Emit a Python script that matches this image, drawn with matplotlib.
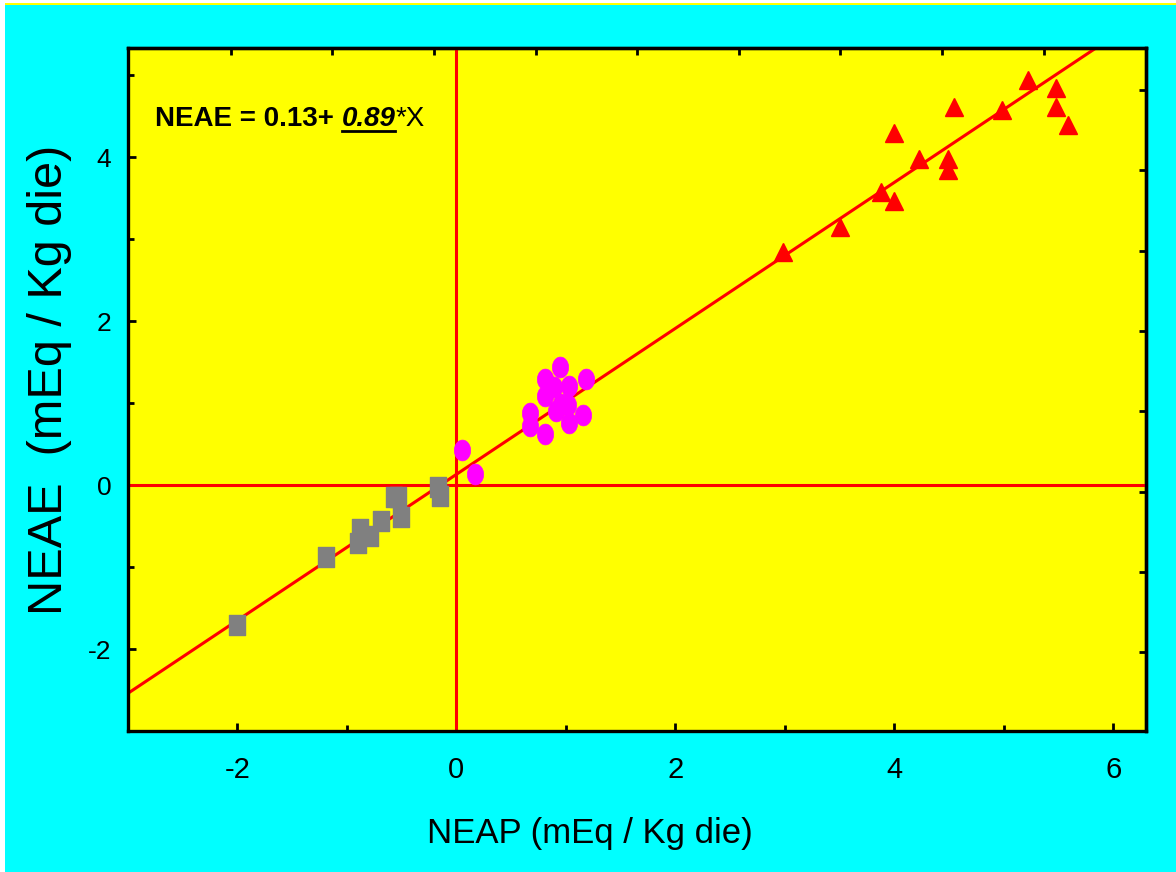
"""NEAE vs NEAP scatter with regression line"""
import matplotlib
matplotlib.use('Agg')
import matplotlib.pyplot as plt
from matplotlib.path import Path
from matplotlib.patches import Rectangle
import numpy as np

plt.rcParams['axes.unicode_minus'] = False

# ---- data ----
# grey squares (negative NEAP)
neap_neg = [-2.00, -1.19, -0.88, -0.90, -0.79, -0.69, -0.57, -0.53, -0.51, -0.17, -0.15]
neae_neg = [-1.71, -0.88, -0.54, -0.71, -0.62, -0.44, -0.15, -0.15, -0.39, -0.02, -0.13]
# magenta ellipses (around 1)
neap_mid = [0.05, 0.17, 0.67, 0.67, 0.81, 0.81, 0.81, 0.95, 0.89, 1.03, 1.18, 0.91, 1.02, 1.03, 1.16, 0.96]
neae_mid = [0.43, 0.13, 0.88, 0.72, 0.62, 1.29, 1.09, 1.44, 1.19, 1.21, 1.29, 0.90, 0.97, 0.76, 0.86, 0.99]
# red triangles (high NEAP)
neap_pos = [2.98, 3.50, 3.88, 4.00, 4.00, 4.23, 4.49, 4.49, 4.55, 4.98, 5.22, 5.48, 5.48, 5.59]
neae_pos = [2.84, 3.15, 3.57, 3.47, 4.29, 3.98, 3.98, 3.84, 4.61, 4.57, 4.94, 4.84, 4.61, 4.39]

intercept = 0.13
slope = 0.89

x_major = [-2, 0, 2, 4, 6]
x_minor = [-1, 1, 3, 5]
y_major = [-2, 0, 2, 4]
y_minor = [-1, 1, 3, 5]

CYAN = '#00FFFF'
YELLOW = '#FFFF00'
RED = '#FF0000'
FONT = ['Liberation Sans', 'DejaVu Sans']

W, H = 1176, 872
fig = plt.figure(figsize=(W / 100, H / 100), dpi=100)
fig.patch.set_facecolor(CYAN)

# white margins + thin yellow line at the very top
fig.patches.append(Rectangle((0, 0), 5 / W, 1, transform=fig.transFigure,
                             facecolor='white', edgecolor='none'))
fig.patches.append(Rectangle((0, 1 - 3 / H), 1, 3 / H, transform=fig.transFigure,
                             facecolor='white', edgecolor='none'))
fig.patches.append(Rectangle((5 / W, 1 - 5 / H), 1, 2 / H, transform=fig.transFigure,
                             facecolor=YELLOW, edgecolor='none'))

ax = fig.add_axes([128 / W, 1 - 731 / H, (1146 - 128) / W, (731 - 48) / H])
ax.set_facecolor(YELLOW)
ax.set_xlim(-3.0, 6.3)
ax.set_ylim(-3.0, 5.33)

# reference lines and fit
ax.axhline(0, color=RED, lw=2.2, zorder=2)
ax.axvline(0, color=RED, lw=2.2, zorder=2)
xs = np.array(ax.get_xlim())
ax.plot(xs, intercept + slope * xs, color=RED, lw=2.2, zorder=2)

# custom markers
t = np.linspace(0, 2 * np.pi, 60)
ellipse = Path(np.column_stack([0.78 * np.cos(t), np.sin(t)]), closed=True)
rect = Path([(-0.82, -1), (0.82, -1), (0.82, 1), (-0.82, 1), (-0.82, -1)], closed=True)

ax.plot(neap_neg, neae_neg, ls='none', marker=rect, ms=14.5, color='#808080',
        mec='#808080', mew=1, zorder=3)
ax.plot(neap_mid, neae_mid, ls='none', marker=ellipse, ms=15, color='#FF00FF',
        mec='#FF00FF', mew=0.5, zorder=3)
ax.plot(neap_pos, neae_pos, ls='none', marker='^', ms=12.5, color=RED,
        mec=RED, mew=1, zorder=3)

# frame and ticks
for s in ax.spines.values():
    s.set_linewidth(2.4)
ax.set_xticks(x_major)
ax.set_xticks(x_minor, minor=True)
ax.set_yticks(y_major)
ax.set_yticks(y_minor, minor=True)
ax.tick_params(which='both', direction='in', width=2, top=False, right=False)
ax.tick_params(which='major', length=6)
ax.tick_params(which='minor', length=4)
ax.tick_params(axis='x', pad=18)
ax.tick_params(axis='y', pad=12)
for lab in ax.get_xticklabels():
    lab.set_family(FONT)
    lab.set_fontsize(21)
for lab in ax.get_yticklabels():
    lab.set_family(FONT)
    lab.set_fontsize(19)

# top / right ticks (own spacing, no labels)
top_ticks = [-2.06 + 0.928 * k for k in range(9)]
right_ticks = [4.82 - 0.98 * k for k in range(8)]
sx = ax.secondary_xaxis('top')
sx.set_xticks(top_ticks)
sx.set_xticklabels([])
sx.tick_params(direction='in', length=5, width=2)
sx.spines['top'].set_linewidth(2.4)
sy = ax.secondary_yaxis('right')
sy.set_yticks(right_ticks)
sy.set_yticklabels([])
sy.tick_params(direction='in', length=5, width=2)
sy.spines['right'].set_linewidth(2.4)

# axis titles
fig.text(590 / W, 1 - 833 / H, 'NEAP (mEq / Kg die)', family=FONT, fontsize=25,
         ha='center', va='center')
fig.text(50 / W, 1 - 380 / H, 'NEAE  (mEq / Kg die)', family=FONT, fontsize=35,
         rotation=90, ha='center', va='center')

# regression equation: pieces chained one after another
t1 = fig.text(155 / W, 1 - 132 / H, 'NEAE = 0.13+ ', family=FONT, fontsize=20,
              fontweight='bold', va='bottom')
t2 = ax.annotate('0.89', xy=(1, 0), xycoords=t1, va='bottom', family=FONT,
                 fontsize=20, fontweight='bold', fontstyle='italic')
t3 = ax.annotate('*X', xy=(1, 0), xycoords=t2, va='bottom', family=FONT,
                 fontsize=20)

fig.canvas.draw()
bb = t2.get_window_extent()
inv = fig.transFigure.inverted()
(x0, y0), (x1, _) = inv.transform([(bb.x0, bb.y0), (bb.x1, bb.y0)])
fig.lines.append(plt.Line2D([x0, x1], [y0 + 1 / H, y0 + 1 / H],
                            transform=fig.transFigure, color='black', lw=2))

fig.savefig('out.png', dpi=100, facecolor=CYAN)
